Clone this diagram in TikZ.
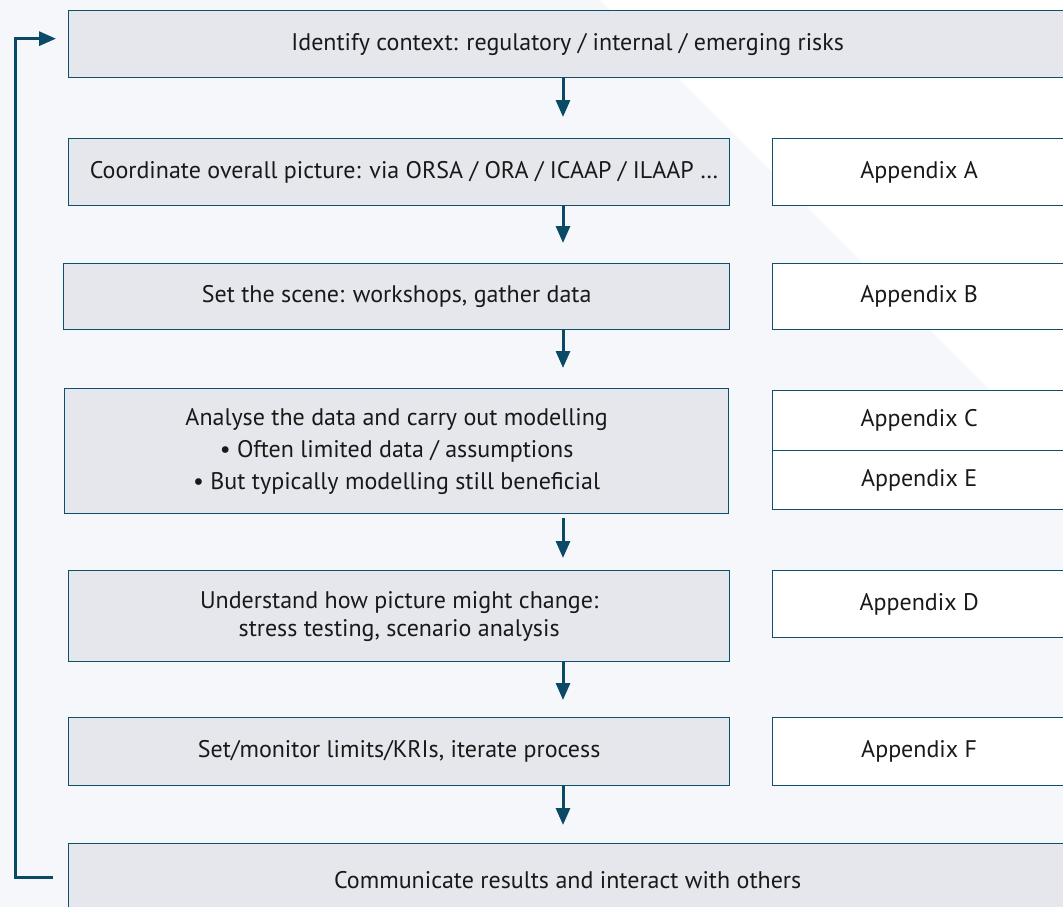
\documentclass[tikz,border=0pt]{standalone}
\usepackage{fontspec}
\setmainfont{PT Sans}
\usetikzlibrary{arrows.meta,calc}
\definecolor{bdr}{HTML}{0E4F6B}
\definecolor{boxfill}{HTML}{E5E7EC}
\definecolor{bgc}{HTML}{F5F7FB}
\definecolor{arrc}{HTML}{0B4A66}
\tikzset{
  txt/.style={font=\fontsize{24}{32}\selectfont, text=black!90},
  stepbox/.style={txt, draw=bdr, line width=1.3pt, fill=boxfill, inner sep=0pt, anchor=north west, align=center},
  appbox/.style={txt, draw=bdr, line width=1.3pt, fill=white, inner sep=0pt, anchor=north west, align=center},
  arr/.style={draw=arrc, line width=3pt, -{Triangle[width=14pt,length=17pt]}},
}
\begin{document}
\begin{tikzpicture}[x=1pt,y=-1pt]
\useasboundingbox (0,0) rectangle (1063,907);
\clip (0,0) rectangle (1063,907);
\fill[bgc] (0,0) rectangle (1063,907);
\fill[white] (600,0) -- (1063,0) -- (1063,463) -- cycle;

\coordinate (ax) at (563,0);
\coordinate (fbx) at (15,500);

\node[stepbox, minimum width=998pt, minimum height=67pt] (ctx) at (68,10) {Identify context: regulatory / internal / emerging risks};

\node[stepbox, minimum width=661pt, minimum height=67pt] (coord) at (68,138) {\hspace*{10pt}Coordinate overall picture: via ORSA / ORA / ICAAP / ILAAP \dots};
\node[appbox, minimum width=293pt, minimum height=67pt] (appA) at (772,138) {Appendix A};

\node[stepbox, minimum width=666pt, minimum height=66pt] (scene) at (63,263) {Set the scene: workshops, gather data};
\node[appbox, minimum width=293pt, minimum height=66pt] (appB) at (772,263) {Appendix B};

\node[stepbox, minimum width=664pt, minimum height=125pt, font=\fontsize{24}{32}\selectfont] (anal) at (64,388) {Analyse the data and carry out modelling\\\textbullet\ Often limited data / assumptions\\\textbullet\ But typically modelling still beneficial};
\node[appbox, minimum width=293pt, minimum height=60pt] (appC) at (772,390) {Appendix C};
\node[appbox, minimum width=293pt, minimum height=59pt] (appE) at (772,450) {Appendix E};

\node[stepbox, minimum width=661pt, minimum height=91pt, font=\fontsize{24}{28}\selectfont] (under) at (68,570) {Understand how picture might change:\\stress testing, scenario analysis};
\node[appbox, minimum width=293pt, minimum height=67pt] (appD) at (772,570) {Appendix D};

\node[stepbox, minimum width=661pt, minimum height=68pt] (limits) at (68,717) {Set/monitor limits/KRIs, iterate process};
\node[appbox, minimum width=293pt, minimum height=68pt] (appF) at (772,717) {Appendix F};

\node[stepbox, minimum width=998pt, minimum height=72pt] (comm) at (68,843) {Communicate results and interact with others};

\draw[arr, shorten >=21pt] (ctx.south -| ax) -- (coord.north -| ax);
\draw[arr, shorten >=20pt] (coord.south -| ax) -- (scene.north -| ax);
\draw[arr, shorten >=20pt] (scene.south -| ax) -- (anal.north -| ax);
\draw[arr, shorten <=4pt, shorten >=12pt] (anal.south -| ax) -- (under.north -| ax);
\draw[arr, shorten >=17pt] (under.south -| ax) -- (limits.north -| ax);
\draw[arr, shorten >=18pt] (limits.south -| ax) -- (comm.north -| ax);

\draw[arr, shorten <=15pt, shorten >=12pt] ([yshift=2pt]comm.west) -| (fbx) |- ([yshift=5.5pt]ctx.west);
\end{tikzpicture}
\end{document}
